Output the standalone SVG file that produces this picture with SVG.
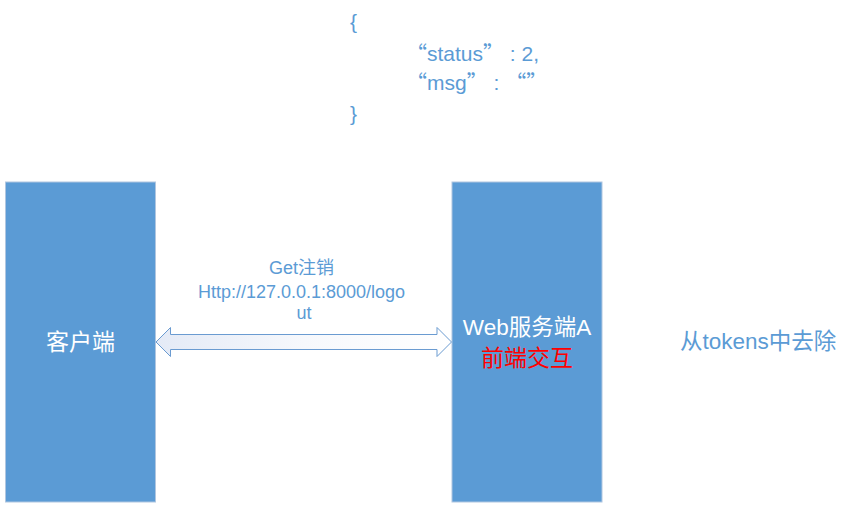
<svg xmlns="http://www.w3.org/2000/svg" width="852" height="510" viewBox="0 0 852 510">
<defs>
<linearGradient id="arrowGrad" x1="0" y1="0" x2="1" y2="0">
<stop offset="0" stop-color="#e4eaf6"/>
<stop offset="0.5" stop-color="#f6f8fc"/>
<stop offset="1" stop-color="#ffffff"/>
</linearGradient>
</defs>
<style>
.box{fill:#5b9bd5;stroke:#b0c6e0;stroke-width:1}
.t{font-family:"Liberation Sans","Noto Sans CJK SC",sans-serif}
.blue{fill:#5b9bd5}
.white{fill:#ffffff}
.q{font-family:"Noto Sans CJK SC",sans-serif}
</style>
<rect width="852" height="510" fill="#ffffff"/>
<g id="json">
<text class="t blue" x="350" y="29" font-size="21">{</text>
<text class="t blue" x="406" y="61" font-size="21"><tspan class="q">“</tspan>status<tspan class="q">”</tspan> : 2,</text>
<text class="t blue" x="406" y="90" font-size="21"><tspan class="q">“</tspan>msg<tspan class="q">”</tspan> :  <tspan class="q">“”</tspan></text>
<text class="t blue" x="350" y="121" font-size="21">}</text>
</g>
<g id="client">
<rect class="box" x="5.5" y="182" width="150" height="320"/>
<text class="t white" x="80.5" y="350" font-size="23" text-anchor="middle">客户端</text>
</g>
<g id="server">
<rect class="box" x="452" y="182" width="150" height="320"/>
<text class="t white" x="527" y="335" font-size="22.5" text-anchor="middle">Web服务端A</text>
<text class="t" x="527" y="366" font-size="23" text-anchor="middle" fill="#ff0000">前端交互</text>
</g>
<g id="connectors">
<path d="M156,342 L170.5,327.5 L170.5,334.5 L437,334.5 L437,327.5 L451.5,342 L437,356.5 L437,349.5 L170.5,349.5 L170.5,356.5 Z" fill="url(#arrowGrad)" stroke="#6a9bd1" stroke-width="1"/>
<text class="t blue" font-size="18" text-anchor="middle">
<tspan x="304" y="274">Get注销</tspan>
<tspan x="304" y="298">Http://127.0.0.1:8000/logo</tspan>
<tspan x="304" y="319">ut</tspan>
</text>
</g>
<g id="note">
<text class="t blue" x="680" y="349" font-size="22.5">从tokens中去除</text>
</g>
</svg>
